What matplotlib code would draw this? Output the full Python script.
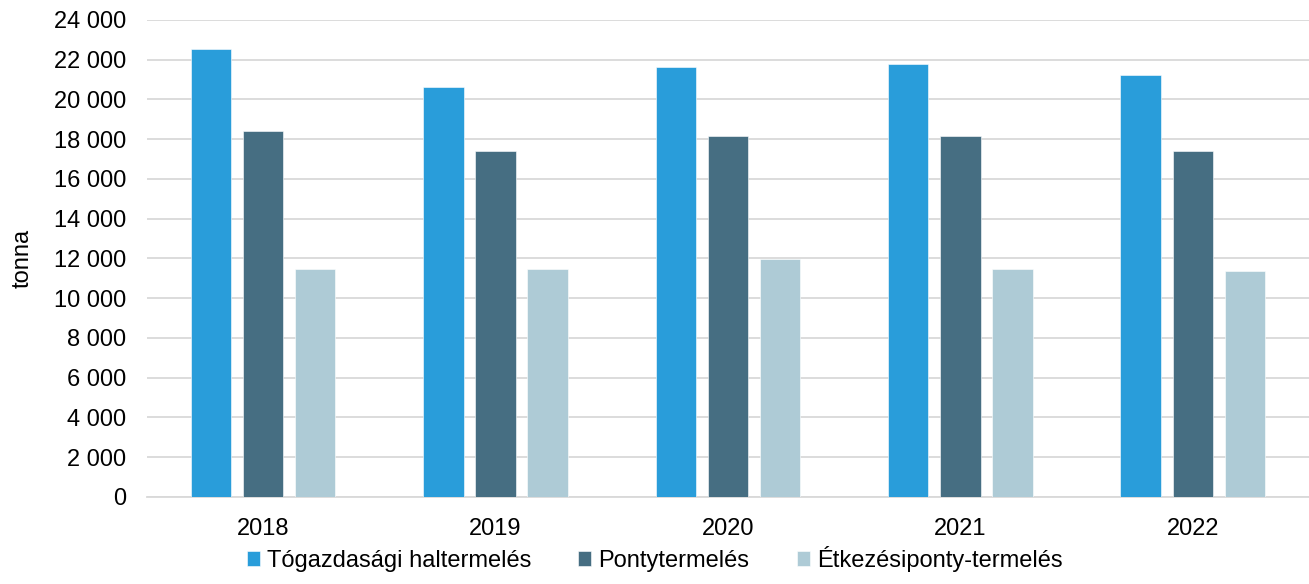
import numpy as np
import matplotlib.pyplot as plt
from matplotlib.ticker import FuncFormatter

years = ['2018', '2019', '2020', '2021', '2022']
togazdasagi = [22550, 20620, 21630, 21765, 21210]
ponty = [18410, 17400, 18175, 18175, 17420]
etkezesi = [11480, 11450, 11970, 11480, 11350]

series_names = ['Tógazdasági haltermelés', 'Pontytermelés', 'Étkezésiponty-termelés']
colors = ['#299DDA', '#466E82', '#AECBD6']

plt.rcParams['font.family'] = ['Liberation Sans', 'DejaVu Sans']

fig = plt.figure(figsize=(13.09, 5.84), dpi=100)
ax = fig.add_axes([0.1121, 0.149, 0.8879, 0.8168])

x = np.arange(len(years))
width = 0.174
pitch = 0.224
for i, (vals, name, c) in enumerate(zip([togazdasagi, ponty, etkezesi], series_names, colors)):
    ax.bar(x + (i - 1) * pitch, vals, width, color=c, label=name, zorder=3,
           edgecolor='white', linewidth=0.4)

ax.set_xlim(-0.5, len(years) - 0.5)
ax.set_ylim(0, 24000)
ax.set_yticks(np.arange(0, 24001, 2000))
ax.yaxis.set_major_formatter(FuncFormatter(lambda v, p: f'{int(v):,}'.replace(',', ' ')))
ax.set_xticks(x)
ax.set_xticklabels(years)
ax.grid(axis='y', color='#D9D9D9', linewidth=1.3, zorder=0)
for s in ['top', 'right', 'left']:
    ax.spines[s].set_visible(False)
ax.spines['bottom'].set_color('#D9D9D9')
ax.spines['bottom'].set_linewidth(1.3)
ax.tick_params(axis='both', length=0, labelsize=17, colors='black')
ax.tick_params(axis='x', pad=15)
ax.tick_params(axis='y', pad=15)
ax.set_ylabel('tonna', fontsize=17, labelpad=14)

fig.legend(loc='lower center', bbox_to_anchor=(0.5, -0.015), ncol=3, frameon=False,
           fontsize=17, handlelength=0.55, handleheight=0.6, handletextpad=0.3,
           columnspacing=2.0)

fig.savefig('out.png', dpi=100)
